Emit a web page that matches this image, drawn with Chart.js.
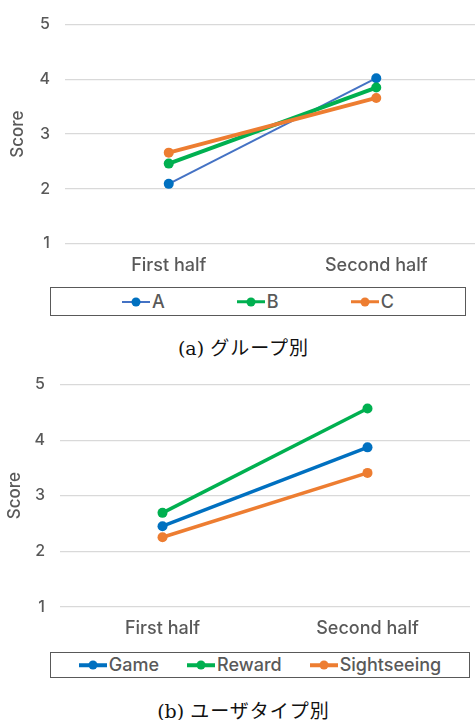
<!DOCTYPE html>
<html>
<head>
<meta charset="utf-8">
<script src="https://cdn.jsdelivr.net/npm/chart.js@4"></script>
<style>
  html, body { margin: 0; padding: 0; background: #fff; }
  body { width: 475px; height: 720px; overflow: hidden; position: relative;
         font-family: Inter, "Noto Sans CJK JP", sans-serif; }
  .plot { position: absolute; left: 0; }
  .legend { position: absolute; border: 1px solid #595959; box-sizing: border-box;
            display: flex; align-items: center; justify-content: center;
            color: #595959; font-size: 18px; font-weight: 500; line-height: 20px; }
  .item { display: flex; align-items: center; }
  .key { position: relative; width: 28px; height: 10px; margin-right: 2px; }
  .key .ln { position: absolute; left: 0; right: 0; top: 50%; transform: translateY(-50%); }
  .key .dot { position: absolute; left: 50%; top: 50%; width: 9px; height: 9px;
              border-radius: 50%; transform: translate(-50%, -50%); }
  .caption { position: absolute; left: 0; width: 487px; text-align: center; line-height: 22px;
             font-family: "DejaVu Serif", "Noto Sans CJK JP", serif; font-size: 19px; color: #111; }
  .caption .jp { font-family: "Noto Sans CJK JP", sans-serif; letter-spacing: 1px; }
</style>
</head>
<body>
<div class="plot" style="top:0;"><canvas id="chartGroup" width="485" height="280"></canvas></div>
<div class="legend" id="legendGroup" style="left:50px;top:287px;width:416px;height:29px;gap:72px;"></div>
<div class="caption" style="top:336px;">(a) <span class="jp">グループ別</span></div>

<div class="plot" style="top:360px;"><canvas id="chartUser" width="475" height="280"></canvas></div>
<div class="legend" id="legendUser" style="left:50px;top:652px;width:420px;height:26px;gap:28px;"></div>
<div class="caption" style="top:699px;">(b) <span class="jp">ユーザタイプ別</span></div>

<script>
// Categories and scores
const periods = ['First half', 'Second half'];
const scoreTicks = [1, 2, 3, 4, 5];

// (a) by group
const groupNames = ['A', 'B', 'C'];
const groupA = [2.09, 4.02];
const groupB = [2.46, 3.85];
const groupC = [2.66, 3.66];

// (b) by user type
const userNames = ['Game', 'Reward', 'Sightseeing'];
const userGame = [2.45, 3.87];
const userReward = [2.69, 4.57];
const userSightseeing = [2.25, 3.41];

const BLUE = '#0070C0', BLUE_LINE = '#4472C4', GREEN = '#00B050', ORANGE = '#ED7D31';
const AXIS_TEXT = '#595959';
const FONT = 'Inter, "Noto Sans CJK JP", sans-serif';

function series(label, data, lineColor, dotColor, width, order) {
  return {
    label, data, order,
    borderColor: lineColor, borderWidth: width,
    pointBackgroundColor: dotColor, pointBorderWidth: 0,
    pointRadius: 5, pointHoverRadius: 5, fill: false, tension: 0
  };
}

function options(yWidth, xHeight, topPad, titlePad) {
  return {
    responsive: false, animation: false, devicePixelRatio: 1,
    events: [],
    layout: { padding: { top: topPad, right: 0, bottom: 0, left: 0 } },
    plugins: { legend: { display: false }, tooltip: { enabled: false } },
    scales: {
      x: {
        type: 'category', offset: true,
        grid: { display: false }, border: { display: false },
        ticks: { color: AXIS_TEXT, font: { family: FONT, size: 18, weight: 500 }, padding: 3 },
        afterFit: s => { s.height = xHeight; }
      },
      y: {
        min: scoreTicks[0], max: scoreTicks[scoreTicks.length - 1],
        afterBuildTicks: s => { s.ticks = scoreTicks.map(v => ({ value: v })); },
        grid: { color: '#D9D9D9', lineWidth: 1.2, drawTicks: false },
        border: { display: false },
        ticks: { color: AXIS_TEXT, font: { family: FONT, size: 16, weight: 500 }, padding: 15 },
        title: { display: true, text: 'Score', color: AXIS_TEXT,
                 font: { family: FONT, size: 17, weight: 500 }, padding: { top: titlePad, bottom: 0 } },
        afterFit: s => { s.width = yWidth; }
      }
    }
  };
}

new Chart(document.getElementById('chartGroup'), {
  type: 'line',
  data: {
    labels: periods,
    datasets: [
      series(groupNames[0], groupA, BLUE_LINE, BLUE, 2, 2),
      series(groupNames[1], groupB, GREEN, GREEN, 4, 1),
      series(groupNames[2], groupC, ORANGE, ORANGE, 4, 0)
    ]
  },
  options: options(65, 36.5, 23, 8)
});

new Chart(document.getElementById('chartUser'), {
  type: 'line',
  data: {
    labels: periods,
    datasets: [
      series(userNames[0], userGame, BLUE, BLUE, 3.5, 0),
      series(userNames[1], userReward, GREEN, GREEN, 3.5, 1),
      series(userNames[2], userSightseeing, ORANGE, ORANGE, 3.5, 2)
    ]
  },
  options: options(60, 33.3, 23.3, 5)
});

// Legends: a line with a dot, followed by the series name
function buildLegend(id, entries) {
  const box = document.getElementById(id);
  entries.forEach(e => {
    const item = document.createElement('div');
    item.className = 'item';
    item.innerHTML =
      '<span class="key"><span class="ln" style="height:' + e.w + 'px;background:' + e.line + '"></span>' +
      '<span class="dot" style="background:' + e.dot + '"></span></span><span>' + e.name + '</span>';
    box.appendChild(item);
  });
}
buildLegend('legendGroup', [
  { name: groupNames[0], line: BLUE_LINE, dot: BLUE, w: 2 },
  { name: groupNames[1], line: GREEN, dot: GREEN, w: 3.5 },
  { name: groupNames[2], line: ORANGE, dot: ORANGE, w: 3.5 }
]);
buildLegend('legendUser', [
  { name: userNames[0], line: BLUE, dot: BLUE, w: 3.5 },
  { name: userNames[1], line: GREEN, dot: GREEN, w: 3.5 },
  { name: userNames[2], line: ORANGE, dot: ORANGE, w: 3.5 }
]);
</script>
</body>
</html>
